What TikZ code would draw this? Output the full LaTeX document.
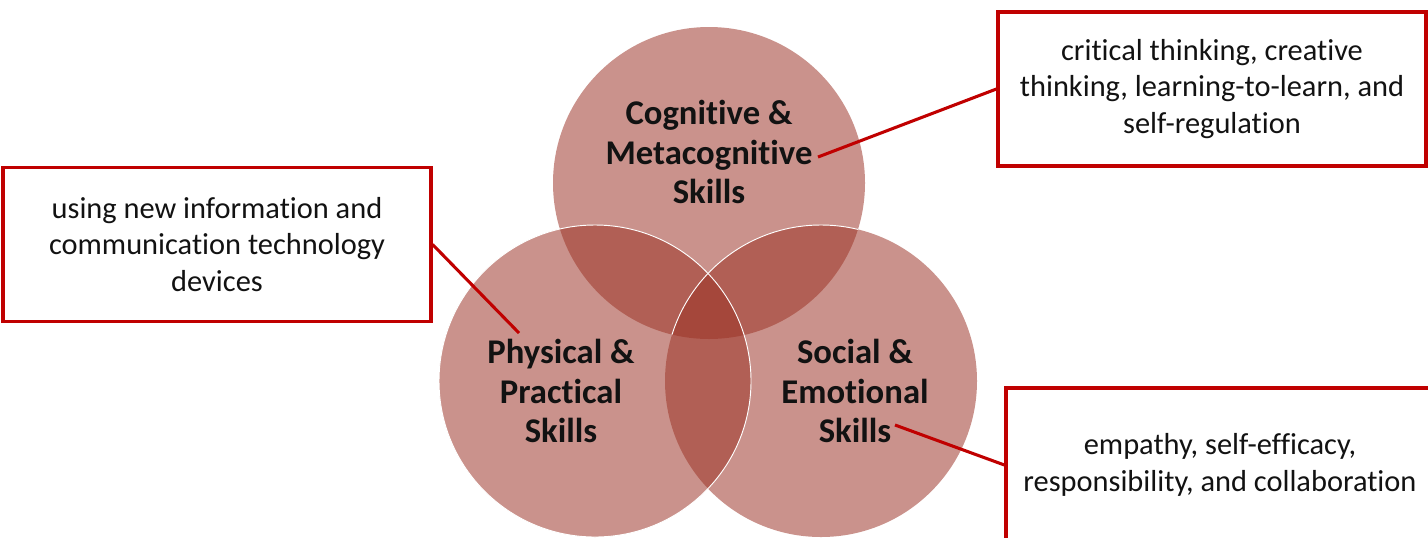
\documentclass[tikz,border=0pt]{standalone}
\usepackage{fontspec}
\setmainfont{Carlito}[RawFeature={-liga}]
\definecolor{vennred}{RGB}{155,50,37}
\definecolor{linkred}{RGB}{192,0,0}
\begin{document}
\begin{tikzpicture}[x=0.75pt,y=-0.75pt,
  venn/.style={circle, minimum size=234pt, inner sep=0pt, fill=vennred, fill opacity=0.53},
  skill/.style={font=\fontsize{26}{29.5}\selectfont\bfseries, align=center, text=black!93},
  infobox/.style={draw=linkred, line width=2.4pt, minimum width=321pt, minimum height=115.5pt,
    inner sep=0pt, align=center, font=\fontsize{22.8}{27.4}\selectfont, text=black!93},
  link/.style={draw=linkred, line width=2.3pt}]
\useasboundingbox (0,0) rectangle (1428,537);
\clip (0,0) rectangle (1428,537);

% the three skill areas
\node[venn] (cog) at (709,183) {};
\node[venn] (phy) at (595,381) {};
\node[venn] (soc) at (821,381) {};

% thin white rims where the circles overlap
\draw[white, line width=0.7pt] (phy.center) circle[radius=156];
\begin{scope}
  \clip (cog.center) circle[radius=156];
  \draw[white, line width=0.7pt] (soc.center) circle[radius=156];
\end{scope}

% circle labels
\node[skill] (cogl) at (709,152) {Cognitive \&\\Metacognitive\\Skills};
\node[skill] (phyl) at (561,391) {Physical \&\\Practical\\Skills};
\node[skill] (socl) at (855,391) {Social \&\\Emotional\\Skills};

% description boxes
\node[infobox] (crit) at (1212,89) {critical thinking, creative\\thinking, learning-to-learn, and\\self-regulation};
\node[infobox] (tech) at (217,244.5) {using new information and\\communication technology\\devices};
\node[infobox] (emp) at (1220,465) {empathy, self-efficacy,\\responsibility, and collaboration};

% connector ends next to the labels
\coordinate (cogtip) at (818,157);
\coordinate (phytip) at (519,333);
\coordinate (soctip) at (895,425);

\draw[link] (cogtip) -- (crit.west);
\draw[link] (tech.east) -- (phytip);
\draw[link] (soctip) -- (emp.west);
\end{tikzpicture}
\end{document}
